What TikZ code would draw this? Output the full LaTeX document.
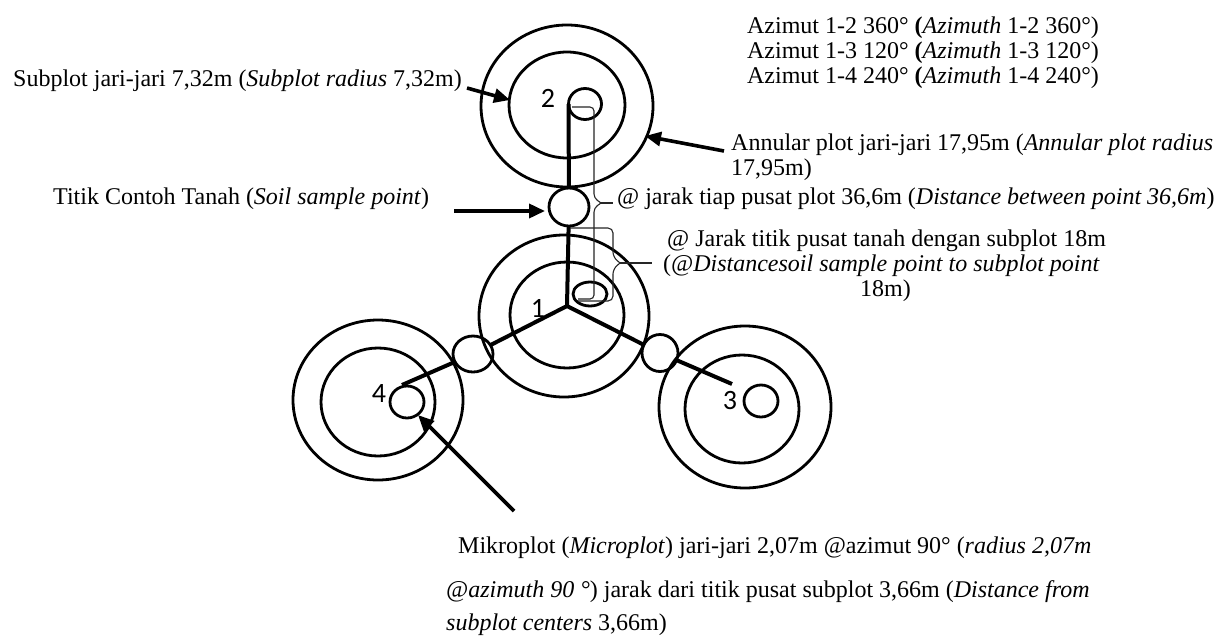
\documentclass[tikz,border=0pt]{standalone}
\usepackage{fontspec}
\setmainfont{Liberation Serif}
\newfontfamily\numfont{Carlito}
\usetikzlibrary{shapes.geometric,arrows.meta}
\begin{document}
\begin{tikzpicture}[x=1pt,y=-1pt,
  ring/.style={draw,ellipse,line width=2.8pt,inner sep=0pt,outer sep=0pt},
  conn/.style={line width=4pt},
  pointer/.style={line width=3.6pt,-{Triangle[length=16pt,width=14pt]}},
  bracket/.style={line width=1.1pt,black!85},
  txt/.style={font=\fontsize{24pt}{25pt}\selectfont,inner sep=0pt,anchor=base west},
  txtc/.style={font=\fontsize{24pt}{25pt}\selectfont,inner sep=0pt,anchor=base},
  num/.style={font=\numfont\fontsize{28pt}{28pt}\selectfont,inner sep=0pt}
]
\useasboundingbox (0,0) rectangle (1230,637);
\fill[white] (0,0) rectangle (1230,637);

% plot 2
\node[ring,minimum width=172pt,minimum height=162pt] (o2) at (567,106) {};
\node[ring,minimum width=116pt,minimum height=106pt] (i2) at (567,105) {};
\node[ring,minimum width=33pt,minimum height=31pt] (m2) at (585,104) {};
% plot 1
\node[ring,minimum width=170pt,minimum height=162pt] (o1) at (564,316) {};
\node[ring,minimum width=114pt,minimum height=106pt] (i1) at (567,315) {};
\node[ring,minimum width=34pt,minimum height=24pt] (m1) at (590,294) {};
% plot 4
\node[ring,minimum width=170pt,minimum height=160pt] (o4) at (378,400) {};
\node[ring,minimum width=114pt,minimum height=108pt] (i4) at (378,402) {};
\node[ring,minimum width=34pt,minimum height=32pt] (m4) at (407,402) {};
% plot 3
\node[ring,minimum width=172pt,minimum height=162pt] (o3) at (745,407) {};
\node[ring,minimum width=114pt,minimum height=108pt] (i3) at (742,409) {};
\node[ring,minimum width=34pt,minimum height=32pt] (m3) at (761,401) {};
% soil sample points
\node[ring,minimum width=40pt,minimum height=38pt] (s12) at (569,207) {};
\node[ring,minimum width=40pt,minimum height=36pt] (s14) at (473,354) {};
\node[ring,minimum width=36pt,minimum height=37pt] (s13) at (660,353) {};

% plot numbers
\node[num] (n2) at (548,98) {2};
\node[num] (n1) at (538,308) {1};
\node[num] (n4) at (379,394) {4};
\node[num] (n3) at (730,401) {3};

% connectors
\coordinate (c1) at (567,306);
\coordinate (e4) at (402,385);
\coordinate (e3) at (732,384);
\draw[conn] (m2.west) -- (s12);
\draw[conn] (s12) -- (c1);
\draw[conn] (c1) -- (s14);
\draw[conn] (s14) -- (e4);
\draw[conn] (c1) -- (s13);
\draw[conn] (s13) -- (e3);

% braces
\coordinate (b1t) at (572,107);
\coordinate (b1b) at (578,299);
\coordinate (b1k) at (601,203);
\coordinate (b1p) at (613,203);
\draw[bracket,rounded corners=4pt] (b1t) -- (594,107) -- (594,198) -- (b1k);
\draw[bracket,rounded corners=4pt] (b1k) -- (594,208) -- (594,299) -- (b1b);
\draw[bracket] (b1k) -- (b1p);
\coordinate (b2t) at (570,228);
\coordinate (b2b) at (578,301);
\coordinate (b2k) at (620,263);
\coordinate (b2p) at (652,263);
\draw[bracket,rounded corners=5pt] (b2t) -- (613,228) -- (613,257) -- (b2k);
\draw[bracket,rounded corners=5pt] (b2k) -- (613,269) -- (613,301) -- (b2b);
\draw[bracket] (b2k) -- (b2p);

% texts
\node[txtc] (az1) at (923,33) {Azimut 1-2 360° \textbf{(}\textit{Azimuth} 1-2 360°)};
\node[txtc] (az2) at (923,58) {Azimut 1-3 120° \textbf{(}\textit{Azimuth} 1-3 120°)};
\node[txtc] (az3) at (923,83) {Azimut 1-4 240° \textbf{(}\textit{Azimuth} 1-4 240°)};
\node[txt] (sub) at (13,86) {Subplot jari-jari 7,32m (\textit{Subplot radius} 7,32m)};
\node[txt] (ann1) at (731,150) {Annular plot jari-jari 17,95m (\textit{Annular plot radius}};
\node[txt] (ann2) at (731,175) {17,95m)};
\node[txt] (soil) at (53,204) {Titik Contoh Tanah (\textit{Soil sample point})};
\node[txt] (dist) at (617,204) {@ jarak tiap pusat plot 36,6m (\textit{Distance between point 36,6m})};
\node[txt] (jr1) at (667,246) {@ Jarak titik pusat tanah dengan subplot 18m};
\node[txt] (jr2) at (663,271) {(\textit{@Distancesoil sample point to subplot point}};
\node[txt] (jr3) at (860,296) {18m)};
\node[txt] (mk1) at (458,553) {Mikroplot (\textit{Microplot}) jari-jari 2,07m @azimut 90° (\textit{radius 2,07m}};
\node[txt] (mk2) at (446,597) {\textit{@azimuth 90 °}) jarak dari titik pusat subplot 3,66m (\textit{Distance from}};
\node[txt] (mk3) at (446,630) {\textit{subplot centers} 3,66m)};

% pointer arrows
\coordinate (sa0) at (467,88);
\coordinate (sa1) at (510,100);
\draw[pointer] (sa0) -- (sa1);
\coordinate (aa0) at (724,151);
\coordinate (aa1) at (645,136);
\draw[pointer] (aa0) -- (aa1);
\coordinate (ta0) at (454,211);
\coordinate (ta1) at (545,211);
\draw[pointer] (ta0) -- (ta1);
\coordinate (ma0) at (514,511);
\coordinate (ma1) at (418,415);
\draw[pointer] (ma0) -- (ma1);
\end{tikzpicture}
\end{document}
